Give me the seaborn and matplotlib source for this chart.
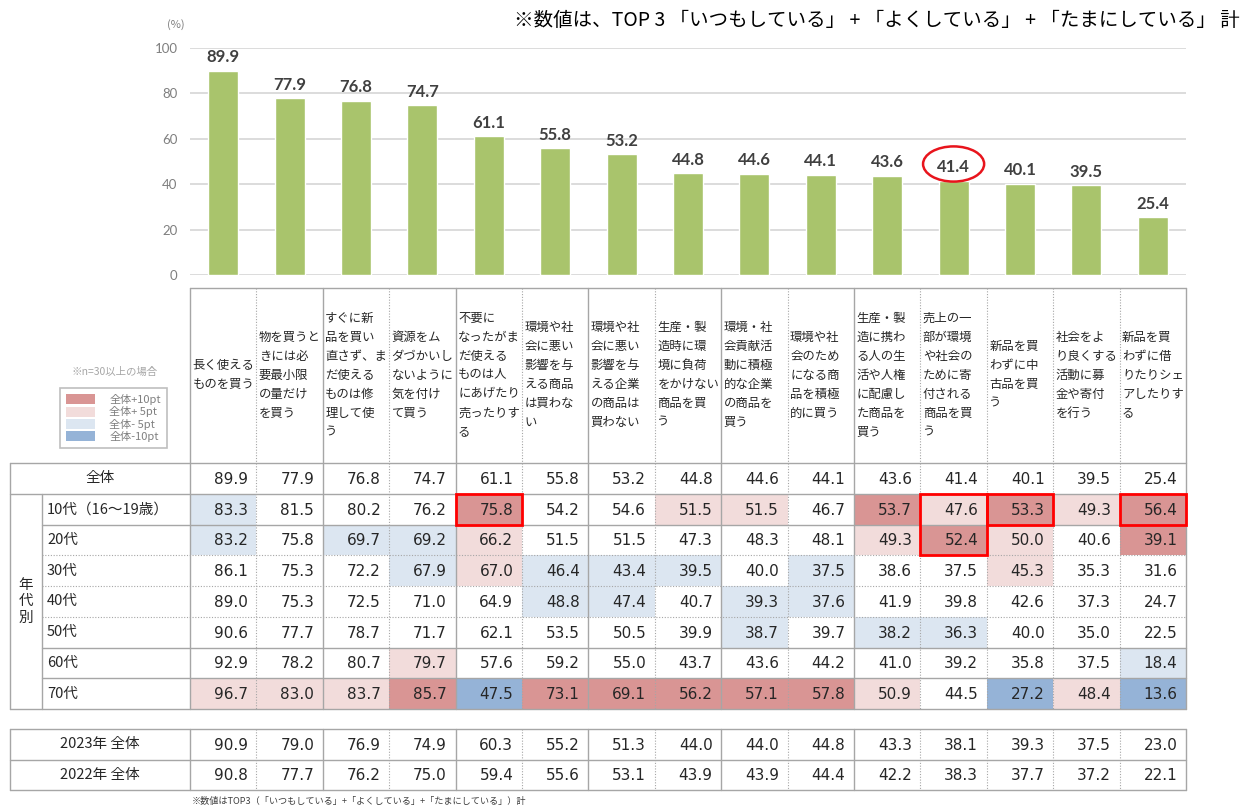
import matplotlib
matplotlib.use("Agg")
import matplotlib.pyplot as plt
from matplotlib.colors import ListedColormap
from matplotlib.patches import Ellipse, Patch, Rectangle
import numpy as np
import pandas as pd
import seaborn as sns

# ---- data -------------------------------------------------------------
items = [
    "長く使える\nものを買う",
    "物を買うと\nきには必\n要最小限\nの量だけ\nを買う",
    "すぐに新\n品を買い\n直さず、ま\nだ使える\nものは修\n理して使\nう",
    "資源をム\nダづかいし\nないように\n気を付け\nて買う",
    "不要に\nなったがま\nだ使える\nものは人\nにあげたり\n売ったりす\nる",
    "環境や社\n会に悪い\n影響を与\nえる商品\nは買わな\nい",
    "環境や社\n会に悪い\n影響を与\nえる企業\nの商品は\n買わない",
    "生産・製\n造時に環\n境に負荷\nをかけない\n商品を買\nう",
    "環境・社\n会貢献活\n動に積極\n的な企業\nの商品を\n買う",
    "環境や社\n会のため\nになる商\n品を積極\n的に買う",
    "生産・製\n造に携わ\nる人の生\n活や人権\nに配慮し\nた商品を\n買う",
    "売上の一\n部が環境\nや社会の\nために寄\n付される\n商品を買\nう",
    "新品を買\nわずに中\n古品を買\nう",
    "社会をよ\nり良くする\n活動に募\n金や寄付\nを行う",
    "新品を買\nわずに借\nりたりシェ\nアしたりす\nる",
]
overall = [89.9, 77.9, 76.8, 74.7, 61.1, 55.8, 53.2, 44.8, 44.6, 44.1, 43.6, 41.4, 40.1, 39.5, 25.4]

age_groups = ["10代（16～19歳）", "20代", "30代", "40代", "50代", "60代", "70代"]
age_values = [
    [83.3, 81.5, 80.2, 76.2, 75.8, 54.2, 54.6, 51.5, 51.5, 46.7, 53.7, 47.6, 53.3, 49.3, 56.4],
    [83.2, 75.8, 69.7, 69.2, 66.2, 51.5, 51.5, 47.3, 48.3, 48.1, 49.3, 52.4, 50.0, 40.6, 39.1],
    [86.1, 75.3, 72.2, 67.9, 67.0, 46.4, 43.4, 39.5, 40.0, 37.5, 38.6, 37.5, 45.3, 35.3, 31.6],
    [89.0, 75.3, 72.5, 71.0, 64.9, 48.8, 47.4, 40.7, 39.3, 37.6, 41.9, 39.8, 42.6, 37.3, 24.7],
    [90.6, 77.7, 78.7, 71.7, 62.1, 53.5, 50.5, 39.9, 38.7, 39.7, 38.2, 36.3, 40.0, 35.0, 22.5],
    [92.9, 78.2, 80.7, 79.7, 57.6, 59.2, 55.0, 43.7, 43.6, 44.2, 41.0, 39.2, 35.8, 37.5, 18.4],
    [96.7, 83.0, 83.7, 85.7, 47.5, 73.1, 69.1, 56.2, 57.1, 57.8, 50.9, 44.5, 27.2, 48.4, 13.6],
]
# shading level vs 全体: 2 = +10pt, 1 = +5pt, -1 = -5pt, -2 = -10pt
age_levels = [
    [-1, 0, 0, 0, 2, 0, 0, 1, 1, 0, 2, 1, 2, 1, 2],
    [-1, 0, -1, -1, 1, 0, 0, 0, 0, 0, 1, 2, 1, 0, 2],
    [0, 0, 0, -1, 1, -1, -1, -1, 0, -1, 0, 0, 1, 0, 0],
    [0, 0, 0, 0, 0, -1, -1, 0, -1, -1, 0, 0, 0, 0, 0],
    [0, 0, 0, 0, 0, 0, 0, 0, -1, 0, -1, -1, 0, 0, 0],
    [0, 0, 0, 1, 0, 0, 0, 0, 0, 0, 0, 0, 0, 0, -1],
    [1, 1, 1, 2, -2, 2, 2, 2, 2, 2, 1, 0, -2, 1, -2],
]
year_labels = ["2023年 全体", "2022年 全体"]
year_values = [
    [90.9, 79.0, 76.9, 74.9, 60.3, 55.2, 51.3, 44.0, 44.0, 44.8, 43.3, 38.1, 39.3, 37.5, 23.0],
    [90.8, 77.7, 76.2, 75.0, 59.4, 55.6, 53.1, 43.9, 43.9, 44.4, 42.2, 38.3, 37.7, 37.2, 22.1],
]
# red frames: (first age row, number of rows, item column)
highlight_boxes = [(0, 1, 4), (0, 2, 11), (0, 1, 12), (0, 1, 14)]
circled_item = 11

level_labels = ["全体+10pt", "全体+ 5pt", "全体- 5pt", "全体-10pt"]
level_colors = ["#d99594", "#f2dcdb", "#dce6f1", "#95b3d7"]
BAR_COLOR = "#a9c46c"
LINE = "#a6a6a6"
TXT = "#262626"

# ---- layout (pixels) --------------------------------------------------
W, H = 1252, 809
X0, X1 = 190, 1186
LX0, LX1 = 10, 42
HY0, HY1 = 288, 463
DY1 = 709
YY0, YY1 = 729, 790
n_cols = len(items)
colw = (X1 - X0) / n_cols

sns.set_theme(style="white")
plt.rcParams["font.family"] = ["Noto Sans CJK JP", "DejaVu Sans"]

fig = plt.figure(figsize=(W / 100, H / 100), dpi=100)


def frac(x0, y0, x1, y1):
    return [x0 / W, 1 - y1 / H, (x1 - x0) / W, (y1 - y0) / H]


# ---- bar chart --------------------------------------------------------
bax = fig.add_axes(frac(X0, 48, X1, 275))
bars_df = pd.DataFrame({"item": [str(i) for i in range(n_cols)], "value": overall})
sns.barplot(data=bars_df, x="item", y="value", color=BAR_COLOR, width=0.45,
            saturation=1, ax=bax)
bax.bar_label(bax.containers[0], fmt="%.1f", padding=4, fontsize=12,
              fontweight="bold", color="#404040", family="Lato")
bax.set_xlim(-0.5, n_cols - 0.5)
bax.set_ylim(0, 100)
bax.set_yticks(range(0, 101, 20))
bax.set_xticks([])
bax.set_xlabel("")
bax.set_ylabel("")
bax.grid(axis="y", color="#d9d9d9", linewidth=1.3)
bax.set_axisbelow(True)
sns.despine(ax=bax, left=True, bottom=True)
bax.tick_params(axis="y", length=0, pad=9, labelsize=9.5, labelcolor="#7f7f7f")
for lab in bax.get_yticklabels():
    lab.set_family("Lato")
bax.add_patch(Ellipse((circled_item, overall[circled_item] + 7.5), 0.92, 15.5,
                      fill=False, edgecolor="#e8141c", linewidth=1.8, clip_on=False))

# ---- table shading via heatmaps ---------------------------------------
cmap = ListedColormap([level_colors[3], level_colors[2], "#ffffff",
                       level_colors[1], level_colors[0]])
main_vals = np.array([overall] + age_values)
main_lv = np.array([[0] * n_cols] + age_levels)
hax = fig.add_axes(frac(X0, HY1, X1, DY1))
sns.heatmap(main_lv, cmap=cmap, vmin=-2.5, vmax=2.5, cbar=False, ax=hax,
            xticklabels=False, yticklabels=False, linewidths=0)
for i in range(main_vals.shape[0]):
    for j in range(n_cols):
        hax.text(j + 0.87, i + 0.53, f"{main_vals[i, j]:.1f}", ha="right",
                 va="center", fontsize=11, color=TXT, family="DejaVu Sans")

yax = fig.add_axes(frac(X0, YY0, X1, YY1))
year_arr = np.array(year_values)
sns.heatmap(np.zeros_like(year_arr), cmap=cmap, vmin=-2.5, vmax=2.5, cbar=False,
            ax=yax, xticklabels=False, yticklabels=False, linewidths=0)
for i in range(year_arr.shape[0]):
    for j in range(n_cols):
        yax.text(j + 0.87, i + 0.53, f"{year_arr[i, j]:.1f}", ha="right",
                 va="center", fontsize=11, color=TXT, family="DejaVu Sans")

# ---- overlay: lines, labels, legend -----------------------------------
ov = fig.add_axes([0, 0, 1, 1])
ov.set_xlim(0, W)
ov.set_ylim(H, 0)
ov.axis("off")
ov.patch.set_alpha(0)
ov.set_zorder(5)

solid = dict(color=LINE, linewidth=1.0)
dotted = dict(color=LINE, linewidth=0.8, linestyle=(0, (1, 1.5)))

n_main = main_vals.shape[0]
rowh = (DY1 - HY1) / n_main
row_y = [HY1 + k * rowh for k in range(n_main + 1)]

# header box
ov.plot([X0, X1], [HY0, HY0], **solid)
# horizontal lines of main table
ov.plot([LX0, X1], [row_y[0], row_y[0]], **solid)
ov.plot([LX0, X1], [row_y[1], row_y[1]], **solid)
for k in range(2, n_main):
    style = dotted if k in (3, 4, 5) else solid
    ov.plot([LX1, X1], [row_y[k], row_y[k]], **style)
ov.plot([LX0, X1], [DY1, DY1], **solid)
# vertical lines
ov.plot([LX0, LX0], [HY1, DY1], **solid)
ov.plot([LX1, LX1], [row_y[1], DY1], **solid)
ov.plot([X0, X0], [HY0, DY1], **solid)
ov.plot([X1, X1], [HY0, DY1], **solid)
for k in range(1, n_cols):
    x = X0 + k * colw
    style = solid if k in (2, 4, 6, 8, 10) else dotted
    ov.plot([x, x], [HY0, DY1], **style)

# year table
ymid = (YY0 + YY1) / 2
for y in (YY0, ymid, YY1):
    ov.plot([LX0, X1], [y, y], **solid)
for x in (LX0, X0, X1):
    ov.plot([x, x], [YY0, YY1], **solid)
for k in range(1, n_cols):
    x = X0 + k * colw
    style = solid if k in (2, 4, 6, 8, 10) else dotted
    ov.plot([x, x], [YY0, YY1], **style)

# header labels
for j, label in enumerate(items):
    ov.text(X0 + j * colw + 2.5, 375, label, ha="left", va="center",
            fontsize=8.9, linespacing=1.6, color=TXT)

# row labels
ov.text((LX0 + X0) / 2, (row_y[0] + row_y[1]) / 2, "全体", ha="center",
        va="center", fontsize=10.5, color=TXT)
for k, g in enumerate(age_groups):
    ov.text(LX1 + 5, (row_y[k + 1] + row_y[k + 2]) / 2, g, ha="left",
            va="center", fontsize=10.5, color=TXT)
ov.text((LX0 + LX1) / 2, (row_y[1] + DY1) / 2, "年\n代\n別", ha="center",
        va="center", fontsize=10.5, linespacing=1.2, color=TXT)
for k, g in enumerate(year_labels):
    ov.text((LX0 + X0) / 2, YY0 + (k + 0.5) * (YY1 - YY0) / 2, g, ha="center",
            va="center", fontsize=10.5, color=TXT)

# red frames
for r0, nr, c in highlight_boxes:
    ov.add_patch(Rectangle((X0 + c * colw, row_y[r0 + 1]), colw, nr * rowh,
                           fill=False, edgecolor="#ff0000", linewidth=2.0,
                           zorder=10))

# legend
handles = [Patch(facecolor=c, edgecolor="none") for c in level_colors]
leg = ov.legend(handles, level_labels, loc="upper left",
                bbox_to_anchor=(60, 388), bbox_transform=ov.transData,
                fontsize=8, labelcolor="#7f7f7f", frameon=True, fancybox=False,
                edgecolor="#bfbfbf", framealpha=1, handlelength=2.6,
                handleheight=1.0, labelspacing=0.12, borderpad=0.55,
                handletextpad=1.3, borderaxespad=0)
leg.get_frame().set_linewidth(1.2)
ov.text(115, 372, "※n=30以上の場合", ha="center", va="center", fontsize=7.5,
        color="#a6a6a6")

# notes
ov.text(176, 25, "(%)", ha="center", va="center", fontsize=8, color="#7f7f7f")
ov.text(1240, 20, "※数値は、TOP 3 「いつもしている」 + 「よくしている」 + 「たまにしている」 計",
        ha="right", va="center", fontsize=14, color="#000000")
ov.text(192, 801, "※数値はTOP3（「いつもしている」+「よくしている」+「たまにしている」）計",
        ha="left", va="center", fontsize=6.6, color="#404040")

fig.savefig("out.png", dpi=100)
